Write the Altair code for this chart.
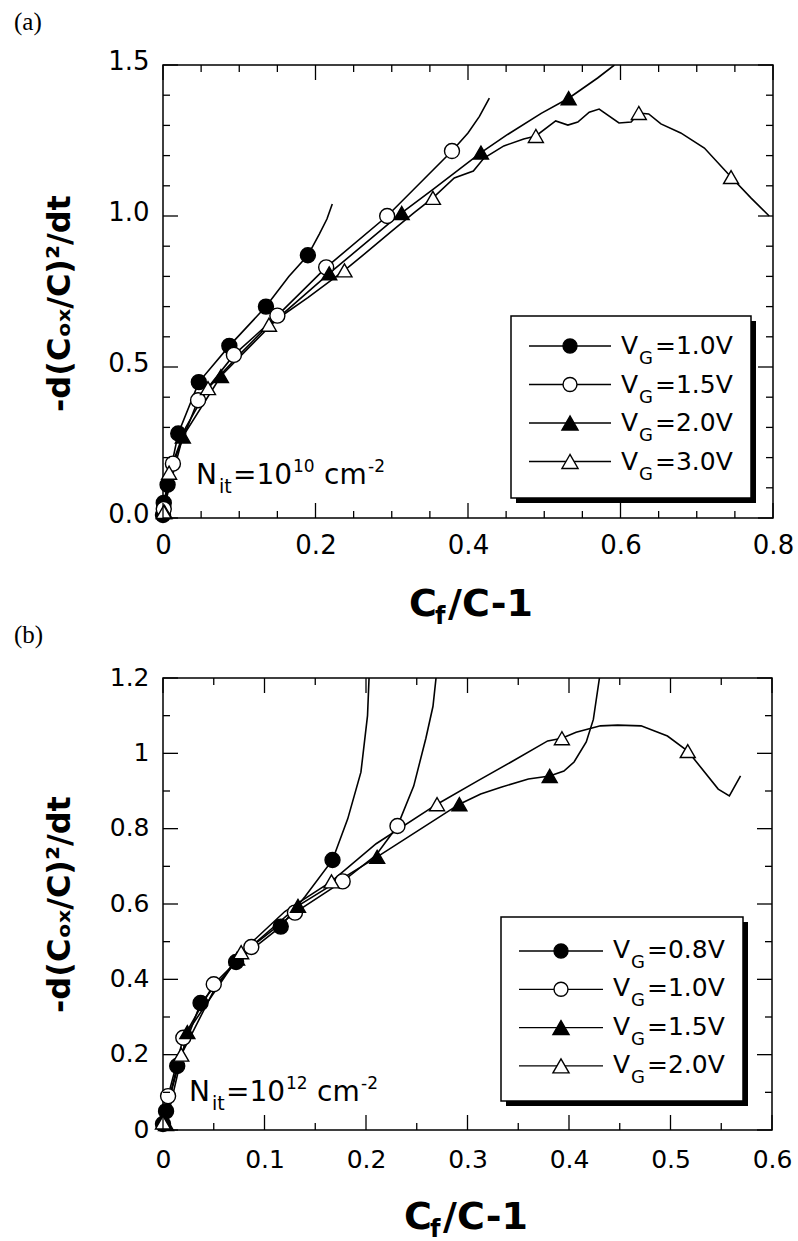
import altair as alt
import pandas as pd

SANS = "DejaVu Sans"
SERIF = "Liberation Serif"
TITLE_FONT = "DejaVu Sans"

SHAPES = ["circle", "circle", "triangle-up", "triangle-up"]
FILLS = ["black", "white", "black", "white"]
SIZES = [225, 225, 290, 290]

Y_TITLE = "-d(C\u2092\u2093/C)\u00b2/dt"

# ---------------- panel (a) : N_it = 1e10 ----------------
A_NAMES = ["(a) VG=1.0V", "(a) VG=1.5V", "(a) VG=2.0V", "(a) VG=3.0V"]
A_LEGEND = ["=1.0V", "=1.5V", "=2.0V", "=3.0V"]
A_NIT_EXP = "10"
A_X_TICKS = [0, 0.2, 0.4, 0.6, 0.8]
A_X_MINOR = [0.05, 0.1, 0.15, 0.25, 0.3, 0.35, 0.45, 0.5, 0.55, 0.65, 0.7, 0.75]
A_Y_TICKS = [0, 0.5, 1.0, 1.5]
A_Y_MINOR = [0.1, 0.2, 0.3, 0.4, 0.6, 0.7, 0.8, 0.9, 1.1, 1.2, 1.3, 1.4]

A1_X = [0, 0.001, 0.006, 0.02, 0.047, 0.087, 0.135, 0.165, 0.19, 0.205, 0.215, 0.222]
A1_Y = [0, 0.05, 0.11, 0.28, 0.45, 0.57, 0.70, 0.80, 0.87, 0.94, 0.99, 1.04]
A1_MX = [0, 0.001, 0.006, 0.02, 0.047, 0.087, 0.135, 0.19]
A1_MY = [0.01, 0.05, 0.11, 0.28, 0.45, 0.57, 0.70, 0.87]

A2_X = [0, 0.001, 0.013, 0.046, 0.093, 0.15, 0.214, 0.294, 0.379, 0.40, 0.415, 0.428]
A2_Y = [0, 0.03, 0.18, 0.39, 0.54, 0.67, 0.83, 1.00, 1.215, 1.275, 1.33, 1.39]
A2_MX = [0.001, 0.013, 0.046, 0.093, 0.15, 0.214, 0.294, 0.379]
A2_MY = [0.03, 0.18, 0.39, 0.54, 0.67, 0.83, 1.00, 1.215]

A3_X = [0, 0.003, 0.026, 0.076, 0.15, 0.218, 0.313, 0.355, 0.417, 0.452, 0.496, 0.532, 0.57, 0.592]
A3_Y = [0, 0.05, 0.27, 0.47, 0.66, 0.81, 1.01, 1.09, 1.21, 1.27, 1.34, 1.39, 1.457, 1.5]
A3_MX = [0.002, 0.026, 0.076, 0.218, 0.313, 0.417, 0.532]
A3_MY = [0.02, 0.27, 0.47, 0.81, 1.01, 1.21, 1.39]

A4_X = [0, 0.001, 0.008, 0.03, 0.059, 0.1, 0.139, 0.19, 0.238, 0.262, 0.30, 0.329, 0.354,
        0.382, 0.407, 0.421, 0.447, 0.473, 0.489, 0.515, 0.531, 0.544, 0.559, 0.572, 0.598,
        0.614, 0.624, 0.637, 0.653, 0.679, 0.710, 0.745, 0.771, 0.795]
A4_Y = [0, 0.02, 0.15, 0.30, 0.43, 0.54, 0.64, 0.73, 0.82, 0.87, 0.95, 1.01, 1.06,
        1.126, 1.149, 1.192, 1.232, 1.255, 1.265, 1.315, 1.301, 1.311, 1.344, 1.354, 1.308,
        1.311, 1.341, 1.338, 1.305, 1.275, 1.225, 1.129, 1.06, 1.0]
A4_MX = [0.001, 0.008, 0.059, 0.139, 0.238, 0.354, 0.489, 0.624, 0.745]
A4_MY = [0.02, 0.15, 0.43, 0.64, 0.82, 1.06, 1.265, 1.341, 1.129]

# ---------------- panel (b) : N_it = 1e12 ----------------
B_NAMES = ["(b) VG=0.8V", "(b) VG=1.0V", "(b) VG=1.5V", "(b) VG=2.0V"]
B_LEGEND = ["=0.8V", "=1.0V", "=1.5V", "=2.0V"]
B_NIT_EXP = "12"
B_X_TICKS = [0, 0.1, 0.2, 0.3, 0.4, 0.5, 0.6]
B_X_MINOR = [0.05, 0.15, 0.25, 0.35, 0.45, 0.55]
B_Y_TICKS = [0, 0.2, 0.4, 0.6, 0.8, 1.0, 1.2]
B_Y_MINOR = [0.1, 0.3, 0.5, 0.7, 0.9, 1.1]

B1_X = [0, 0.003, 0.014, 0.037, 0.072, 0.116, 0.14, 0.167, 0.182, 0.195, 0.2015, 0.203]
B1_Y = [0, 0.05, 0.17, 0.337, 0.446, 0.54, 0.62, 0.717, 0.826, 0.95, 1.10, 1.2]
B1_MX = [0, 0.003, 0.014, 0.037, 0.072, 0.116, 0.167]
B1_MY = [0.016, 0.05, 0.17, 0.337, 0.446, 0.54, 0.717]

B2_X = [0, 0.001, 0.005, 0.02, 0.05, 0.087, 0.13, 0.177, 0.21, 0.231, 0.247, 0.259, 0.266, 0.269]
B2_Y = [0, 0.03, 0.09, 0.245, 0.387, 0.486, 0.577, 0.66, 0.73, 0.807, 0.913, 1.04, 1.125, 1.2]
B2_MX = [0.005, 0.02, 0.05, 0.087, 0.13, 0.177, 0.231]
B2_MY = [0.09, 0.245, 0.387, 0.486, 0.577, 0.66, 0.807]

B3_X = [0, 0.003, 0.024, 0.073, 0.133, 0.211, 0.292, 0.313, 0.333, 0.36, 0.381, 0.395,
        0.405, 0.417, 0.424, 0.43]
B3_Y = [0, 0.016, 0.26, 0.455, 0.595, 0.725, 0.865, 0.892, 0.91, 0.932, 0.94, 0.953,
        0.977, 1.03, 1.09, 1.2]
B3_MX = [0.003, 0.024, 0.073, 0.133, 0.211, 0.292, 0.381]
B3_MY = [0.016, 0.26, 0.455, 0.595, 0.725, 0.865, 0.94]

B4_X = [0, 0.0, 0.018, 0.05, 0.077, 0.12, 0.166, 0.21, 0.27, 0.31, 0.343, 0.379, 0.393,
        0.407, 0.431, 0.448, 0.471, 0.497, 0.517, 0.547, 0.558, 0.569]
B4_Y = [0, 0.02, 0.2, 0.37, 0.472, 0.58, 0.66, 0.76, 0.865, 0.927, 0.977, 1.033, 1.04,
        1.056, 1.073, 1.075, 1.073, 1.046, 1.006, 0.905, 0.887, 0.94]
B4_MX = [0.0, 0.018, 0.077, 0.166, 0.27, 0.393, 0.517]
B4_MY = [0.02, 0.2, 0.472, 0.66, 0.865, 1.04, 1.006]


def one():
    return alt.Chart(pd.DataFrame({"d": [0]}))


def txt(s, x, y, size, weight="normal", font=SANS):
    return one().mark_text(text=s, font=font, fontSize=size, fontWeight=weight,
                           align="left", baseline="alphabetic", color="black"
                           ).encode(x=alt.value(x), y=alt.value(y))


def anchor(x, y):
    return one().mark_rule(strokeWidth=0, strokeOpacity=0).encode(
        x=alt.value(x), x2=alt.value(x + 1), y=alt.value(y), y2=alt.value(y))


def make_panel(p):
    W, H = p["W"], p["H"]
    xs = alt.Scale(domain=p["xdom"], nice=False, zero=False)
    ys = alt.Scale(domain=p["ydom"], nice=False, zero=False)
    names = p["names"]
    shape_s = alt.Scale(domain=names, range=SHAPES)
    fill_s = alt.Scale(domain=names, range=FILLS)
    size_s = alt.Scale(domain=names, range=SIZES)

    lrows, mrows = [], []
    for name, (lx, ly, mx, my) in zip(names, p["series"]):
        lrows += [{"series": name, "i": i, "x": a, "y": b} for i, (a, b) in enumerate(zip(lx, ly))]
        mrows += [{"series": name, "x": a, "y": b} for a, b in zip(mx, my)]
    ldf = pd.DataFrame(lrows)
    mdf = pd.DataFrame(mrows)

    xaxis = alt.Axis(values=p["xmajor"], format=p["xfmt"], ticks=False, domain=False,
                     grid=False, labelFont=SANS, labelFontSize=p["lfs"], labelColor="black",
                     labelPadding=p["xlp"], labelFlush=False, labelOverlap=False, title=None)
    yaxis = alt.Axis(values=p["ymajor"], format=p["yfmt"], ticks=False, domain=False,
                     grid=False, labelFont=SANS, labelFontSize=p["lfs"], labelColor="black",
                     labelPadding=14, labelOffset=p["ylo"], labelFlush=False, labelOverlap=False,
                     title=Y_TITLE, titleFont=TITLE_FONT, titleFontSize=32, titleFontWeight="bold",
                     titleColor="black", titleAngle=270, titleAlign="center",
                     titleBaseline="alphabetic", titleX=-94, titleY=p["ty"])

    def X(f):
        return alt.X(f, scale=xs, axis=xaxis, title=None)

    def Y(f):
        return alt.Y(f, scale=ys, axis=yaxis, title=Y_TITLE)

    layers = []
    layers.append(alt.Chart(ldf).mark_line(color="black", strokeWidth=1.6, clip=True).encode(
        x=X("x:Q"), y=Y("y:Q"), detail="series:N", order="i:Q"))
    layers.append(alt.Chart(mdf).mark_point(filled=True, opacity=1, strokeWidth=1.4).encode(
        x=X("x:Q"), y=Y("y:Q"),
        shape=alt.Shape("series:N", scale=shape_s, legend=None),
        fill=alt.Fill("series:N", scale=fill_s, legend=None),
        size=alt.Size("series:N", scale=size_s, legend=None),
        stroke=alt.value("black")))

    # inward ticks on all four sides
    MAJ, MIN = 15, 7
    for vals, L in ((p["xmajor"], MAJ), (p["xminor"], MIN)):
        df = pd.DataFrame({"x": vals})
        layers.append(alt.Chart(df).mark_rule(color="black", strokeWidth=1.3).encode(
            x=X("x:Q"), y=alt.value(H), y2=alt.value(H - L)))
        layers.append(alt.Chart(df).mark_rule(color="black", strokeWidth=1.3).encode(
            x=X("x:Q"), y=alt.value(0), y2=alt.value(L)))
    for vals, L in ((p["ymajor"], MAJ), (p["yminor"], MIN)):
        df = pd.DataFrame({"y": vals})
        layers.append(alt.Chart(df).mark_rule(color="black", strokeWidth=1.3).encode(
            y=Y("y:Q"), x=alt.value(0), x2=alt.value(L)))
        layers.append(alt.Chart(df).mark_rule(color="black", strokeWidth=1.3).encode(
            y=Y("y:Q"), x=alt.value(W), x2=alt.value(W - L)))

    # legend box with drop shadow
    bx0, by0, bx1, by1 = p["box"]
    layers.append(one().mark_rect(fill="black").encode(
        x=alt.value(bx0 + 5), x2=alt.value(bx1 + 5), y=alt.value(by0 + 5), y2=alt.value(by1 + 5)))
    layers.append(one().mark_rect(fill="white", stroke="black", strokeWidth=1.5).encode(
        x=alt.value(bx0), x2=alt.value(bx1), y=alt.value(by0), y2=alt.value(by1)))
    lx0, lx1 = p["leg_line"]
    vx, gx, rx = p["leg_txt"]
    for i, rest in enumerate(p["legend"]):
        yy = p["leg_y0"] + i * p["leg_step"]
        layers.append(one().mark_rule(color="black", strokeWidth=1.3).encode(
            x=alt.value(lx0), x2=alt.value(lx1), y=alt.value(yy)))
        layers.append(one().mark_point(shape=SHAPES[i], filled=True, fill=FILLS[i], stroke="black",
                                       strokeWidth=1.4, opacity=1, size=SIZES[i] - 30).encode(
            x=alt.value(p["leg_mark"]), y=alt.value(yy)))
        layers.append(txt("V", vx, yy + p["leg_dy"], 25))
        layers.append(txt("G", gx, yy + p["leg_dy"] + 10, 18))
        layers.append(txt(rest, rx, yy + p["leg_dy"], 25))

    # N_it annotation
    nx, ny = p["nit"]
    layers.append(txt("N", nx, ny, 28))
    layers.append(txt("it", nx + 23, ny + 9, 19))
    layers.append(txt("=10", nx + 37, ny, 28))
    layers.append(txt(p["nit_exp"], nx + 97, ny - 12, 17))
    layers.append(txt("cm", nx + 128, ny, 28))
    layers.append(txt("-2", nx + 172, ny - 12, 17))

    # x axis title C_f/C-1
    tx, ty = p["xt"]
    layers.append(txt("C", tx, ty, 38, "bold"))
    layers.append(txt("f", tx + 26, ty + 8, 24, "bold"))
    layers.append(txt("/C-1", tx + 39, ty, 38, "bold"))

    layers += p["extra"]
    return alt.layer(*layers).properties(width=W, height=H)


PA = dict(W=610, H=453, xdom=[0, 0.8], ydom=[0, 1.5],
          xmajor=A_X_TICKS, xminor=A_X_MINOR, ymajor=A_Y_TICKS, yminor=A_Y_MINOR,
          xfmt="~g", yfmt=".1f", lfs=26, xlp=14, ylo=-4, ty=238,
          names=A_NAMES,
          series=[(A1_X, A1_Y, A1_MX, A1_MY), (A2_X, A2_Y, A2_MX, A2_MY),
                  (A3_X, A3_Y, A3_MX, A3_MY), (A4_X, A4_Y, A4_MX, A4_MY)],
          legend=A_LEGEND, box=(348, 251, 588, 433), leg_line=(366, 448), leg_mark=407,
          leg_y0=281, leg_step=38.5, leg_txt=(458, 476, 492), leg_dy=8,
          nit=(33, 419), nit_exp=A_NIT_EXP, xt=(246, 551),
          extra=[txt("(a)", -149, -35, 25, font=SERIF), txt("(b)", -149, 578, 25, font=SERIF),
                 anchor(-162, -64), anchor(0, 590)])

PB = dict(W=609, H=452, xdom=[0, 0.6], ydom=[0, 1.2],
          xmajor=B_X_TICKS, xminor=B_X_MINOR, ymajor=B_Y_TICKS, yminor=B_Y_MINOR,
          xfmt="~g", yfmt="~g", lfs=25, xlp=17, ylo=-1, ty=226,
          names=B_NAMES,
          series=[(B1_X, B1_Y, B1_MX, B1_MY), (B2_X, B2_Y, B2_MX, B2_MY),
                  (B3_X, B3_Y, B3_MX, B3_MY), (B4_X, B4_Y, B4_MX, B4_MY)],
          legend=B_LEGEND, box=(338, 239, 580, 423), leg_line=(356, 440), leg_mark=398,
          leg_y0=273, leg_step=38.3, leg_txt=(450, 468, 484), leg_dy=7,
          nit=(26, 423), nit_exp=B_NIT_EXP, xt=(241, 551),
          extra=[anchor(0, -20)])

chart = alt.vconcat(make_panel(PA), make_panel(PB), spacing=1).properties(
    padding=0, background="white"
).configure_view(stroke="black", strokeWidth=1.5)

chart.save("out.html", embed_options={"renderer": "svg", "actions": False})
